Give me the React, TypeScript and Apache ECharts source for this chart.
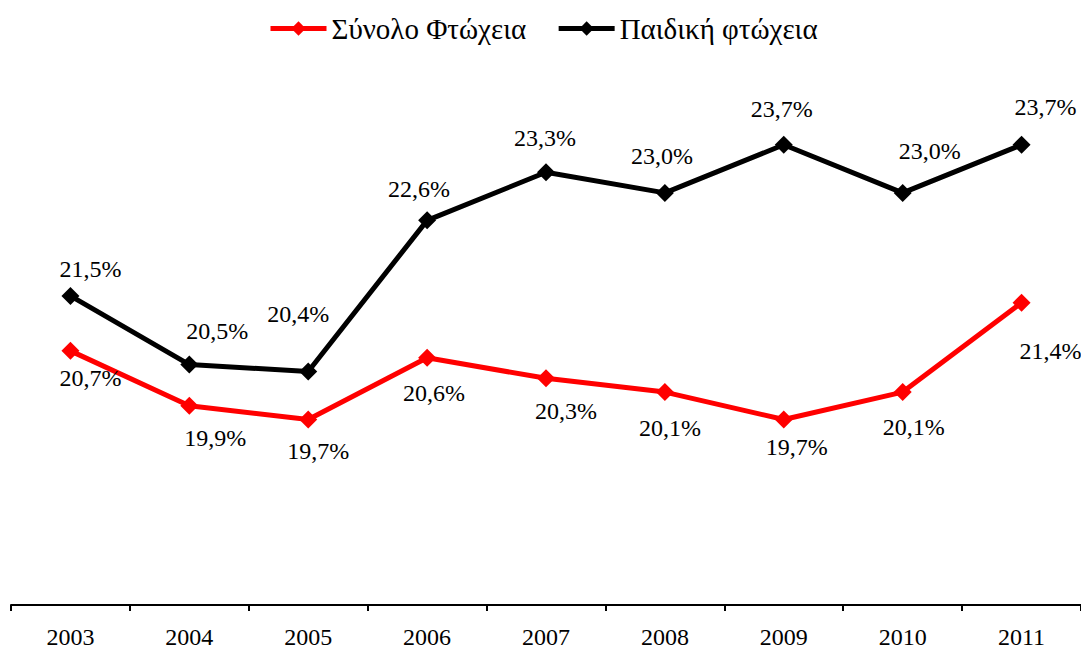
import React, { useEffect, useRef } from "react";
import * as echarts from "echarts";

const years = ["2003", "2004", "2005", "2006", "2007", "2008", "2009", "2010", "2011"];
const totalPoverty = [20.7, 19.9, 19.7, 20.6, 20.3, 20.1, 19.7, 20.1, 21.4];
const childPoverty = [21.5, 20.5, 20.4, 22.6, 23.3, 23.0, 23.7, 23.0, 23.7];
const seriesNames = ["Σύνολο Φτώχεια", "Παιδική φτώχεια"];

// label offsets (px) relative to each point
const totalLabelOffsets = [[20, 27], [26, 32], [10, 31], [7, 35], [20, 33], [5, 36], [13, 27], [11, 35], [29, 48]];
const childLabelOffsets = [[20, -27], [28, -34], [-10, -57], [-8, -31], [-1, -34], [-3, -37], [-2, -36], [27, -42], [24, -38]];

const FONT = "Times New Roman, Liberation Serif, DejaVu Serif, serif";

const fmt = (v: number) => v.toFixed(1).replace(".", ",") + "%";

export default function App() {
  const ref = useRef<HTMLDivElement>(null);
  useEffect(() => {
    if (!ref.current) return;
    const chart = echarts.init(ref.current, null, { renderer: "svg" });
    const mk = (vals: number[], offs: number[][]) =>
      vals.map((v, i) => ({
        value: v,
        label: { offset: offs[i] },
      }));
    const labelCfg = {
      show: true,
      position: "inside",
      formatter: (p: any) => fmt(p.value),
      fontFamily: FONT,
      fontSize: 24,
      color: "#000",
      align: "center",
      verticalAlign: "middle",
    };
    chart.setOption({
      animation: false,
      backgroundColor: "#fff",
      textStyle: { fontFamily: FONT },
      legend: {
        top: 9,
        left: 263,
        itemWidth: 56,
        itemHeight: 18,
        itemGap: 30,
        lineStyle: { width: 5 },
        textStyle: { fontFamily: FONT, fontSize: 29, color: "#000" },
        data: seriesNames,
      },
      grid: { left: 11, right: 0, top: 55.5, bottom: 45, containLabel: false },
      xAxis: {
        type: "category",
        data: years,
        boundaryGap: true,
        axisLine: { lineStyle: { color: "#000", width: 2 } },
        axisTick: { show: true, length: 6, lineStyle: { color: "#000", width: 2 } },
        axisLabel: { fontFamily: FONT, fontSize: 24, color: "#000", margin: 20 },
      },
      yAxis: {
        type: "value",
        min: 17,
        max: 25,
        show: false,
        splitLine: { show: false },
      },
      series: [
        {
          name: seriesNames[0],
          type: "line",
          data: mk(totalPoverty, totalLabelOffsets),
          symbol: "diamond",
          symbolSize: 18,
          color: "#ff0000",
          lineStyle: { color: "#ff0000", width: 5 },
          itemStyle: { color: "#ff0000" },
          label: labelCfg,
          z: 2,
        },
        {
          name: seriesNames[1],
          type: "line",
          data: mk(childPoverty, childLabelOffsets),
          symbol: "diamond",
          symbolSize: 18,
          color: "#000",
          lineStyle: { color: "#000", width: 5 },
          itemStyle: { color: "#000" },
          label: labelCfg,
          z: 3,
        },
      ],
    });
    return () => chart.dispose();
  }, []);
  return (
    <div style={{ position: "fixed", left: 0, top: 0, width: 1081, height: 650 }}>
      <div ref={ref} style={{ width: 1081, height: 650 }} />
    </div>
  );
}
